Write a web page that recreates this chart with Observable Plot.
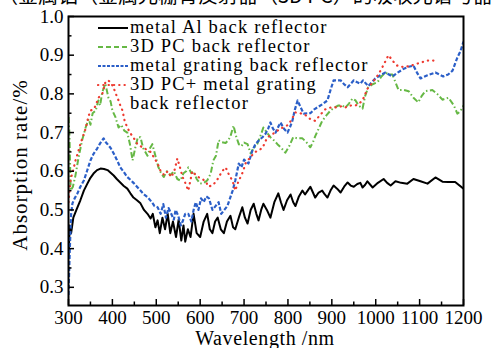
<!DOCTYPE html>
<html><head><meta charset="utf-8">
<script src="https://cdn.jsdelivr.net/npm/d3@7"></script>
<script src="https://cdn.jsdelivr.net/npm/@observablehq/plot@0.6"></script>
<style>
body{margin:0;background:#fff;}
#wrap{position:relative;width:492px;height:348px;font-family:"Liberation Serif",serif;color:#000;}
#wrap > svg{position:absolute;left:0;top:0;}
.ov{position:absolute;white-space:nowrap;}
#topcut{position:absolute;left:0;top:0;width:492px;height:7px;overflow:hidden;}
#topcut span{position:absolute;left:-2px;top:-16px;font-family:"Noto Sans CJK SC",sans-serif;font-size:20px;line-height:22px;white-space:nowrap;}
.leg{position:absolute;left:97px;font-size:18.5px;letter-spacing:1.2px;line-height:18px;height:18px;white-space:nowrap;}
#wrap .leg svg{position:static;vertical-align:middle;}
</style></head>
<body><div id="wrap"></div>
<script>
// ---- data ----
const seriesNames = ["metal Al back reflector","3D PC back reflector","metal grating back reflector","3D PC+ metal grating back reflector"];
const xTicks = [300,400,500,600,700,800,900,1000,1100,1200];
const xMinor = [350,450,550,650,750,850,950,1050,1150];
const yTicks = [0.3,0.4,0.5,0.6,0.7,0.8,0.9,1.0];
const yMinor = [0.35,0.45,0.55,0.65,0.75,0.85,0.95];

const wlAl = [300,303,306,311,318,327,335,343,350,357,365,373,381,389,396,403,410,418,426,434,441,448,456,464,472,480,487,492,498,503,508,514,520,526,532,538,545,551,557,562,566,572,578,585,592,600,608,616,622,628,634,640,647,654,661,669,675,680,688,696,702,708,715,722,728,733,739,744,752,760,769,778,784,790,798,806,812,817,825,833,839,845,851,857,862,870,878,884,890,897,904,912,920,928,936,943,950,958,965,970,976,981,993,1005,1018,1026,1034,1045,1058,1072,1086,1102,1118,1136,1152,1165,1181,1200];
const absAl = [0.38,0.46,0.44,0.48,0.50,0.525,0.55,0.568,0.583,0.594,0.603,0.607,0.606,0.603,0.596,0.589,0.58,0.571,0.562,0.555,0.543,0.532,0.525,0.517,0.50,0.49,0.478,0.49,0.455,0.473,0.44,0.48,0.45,0.49,0.44,0.47,0.43,0.475,0.421,0.46,0.418,0.45,0.43,0.49,0.44,0.43,0.47,0.49,0.45,0.44,0.47,0.48,0.45,0.44,0.47,0.485,0.455,0.45,0.48,0.507,0.48,0.465,0.50,0.516,0.49,0.473,0.50,0.516,0.50,0.48,0.52,0.543,0.52,0.50,0.525,0.54,0.52,0.51,0.535,0.55,0.54,0.55,0.56,0.545,0.532,0.545,0.55,0.54,0.532,0.55,0.563,0.555,0.545,0.56,0.571,0.563,0.56,0.567,0.57,0.558,0.565,0.574,0.558,0.57,0.58,0.57,0.563,0.574,0.57,0.568,0.58,0.574,0.568,0.584,0.573,0.572,0.572,0.555];

const wlPc = [300,302,305,310,316,323,331,339,346,350,355,362,368,372,377,384,391,396,400,407,414,420,427,434,440,446,452,458,464,470,480,486,491,498,505,511,517,524,532,540,548,555,562,568,573,580,585,592,600,608,616,624,630,636,642,650,658,664,669,676,682,688,694,700,708,715,722,730,737,744,752,760,768,776,785,794,803,812,822,833,842,851,857,862,870,878,888,897,906,915,923,931,939,947,954,961,970,976,983,993,1004,1013,1022,1030,1038,1045,1052,1064,1075,1086,1097,1105,1113,1129,1140,1152,1166,1178,1186,1193,1200];
const absPc = [0.74,0.70,0.55,0.56,0.59,0.636,0.68,0.713,0.735,0.72,0.75,0.757,0.783,0.77,0.805,0.826,0.79,0.78,0.757,0.74,0.713,0.72,0.705,0.70,0.67,0.628,0.66,0.688,0.688,0.66,0.64,0.66,0.67,0.64,0.61,0.595,0.585,0.60,0.59,0.60,0.58,0.576,0.595,0.60,0.61,0.595,0.60,0.58,0.568,0.57,0.576,0.594,0.628,0.64,0.68,0.675,0.673,0.68,0.69,0.718,0.69,0.67,0.665,0.674,0.67,0.646,0.66,0.67,0.69,0.713,0.70,0.688,0.68,0.67,0.66,0.648,0.665,0.688,0.685,0.685,0.675,0.662,0.675,0.69,0.71,0.73,0.745,0.757,0.765,0.77,0.77,0.765,0.775,0.788,0.783,0.77,0.762,0.795,0.817,0.825,0.83,0.845,0.855,0.85,0.85,0.83,0.81,0.81,0.807,0.79,0.778,0.795,0.807,0.81,0.80,0.785,0.79,0.77,0.749,0.755,0.77];

const wlGr = [300,303,306,309,314,320,327,335,342,350,357,365,372,380,385,389,396,403,410,418,426,434,441,448,456,464,472,480,490,496,503,510,516,522,528,534,540,544,550,556,560,566,573,580,585,590,596,602,608,614,620,628,635,642,648,655,662,668,674,680,688,694,700,705,710,719,726,734,742,749,755,760,766,772,778,783,791,799,805,810,816,822,829,836,844,851,860,867,878,890,897,904,912,920,928,936,943,950,958,965,971,983,991,999,1010,1022,1030,1038,1050,1064,1075,1086,1094,1102,1118,1136,1145,1154,1165,1175,1186,1193,1200];
const absGr = [0.28,0.40,0.49,0.517,0.53,0.542,0.56,0.576,0.60,0.628,0.645,0.658,0.672,0.685,0.675,0.67,0.66,0.646,0.63,0.61,0.598,0.585,0.578,0.57,0.56,0.55,0.54,0.533,0.52,0.51,0.507,0.49,0.515,0.48,0.505,0.49,0.475,0.50,0.485,0.46,0.47,0.49,0.49,0.47,0.50,0.52,0.50,0.53,0.52,0.535,0.53,0.50,0.51,0.52,0.49,0.50,0.51,0.53,0.55,0.576,0.62,0.61,0.63,0.625,0.62,0.654,0.67,0.68,0.688,0.697,0.71,0.726,0.71,0.70,0.715,0.726,0.71,0.70,0.715,0.73,0.76,0.783,0.765,0.749,0.75,0.75,0.76,0.765,0.773,0.783,0.81,0.835,0.835,0.835,0.825,0.817,0.826,0.835,0.83,0.826,0.835,0.82,0.83,0.84,0.848,0.855,0.85,0.845,0.855,0.865,0.87,0.873,0.855,0.84,0.848,0.855,0.85,0.845,0.85,0.86,0.894,0.91,0.935];

const wlCm = [300,305,310,316,322,327,333,339,345,350,357,362,368,377,384,390,396,403,408,414,418,423,428,434,440,446,452,457,464,471,480,487,495,503,510,518,526,534,541,548,554,560,566,573,582,590,596,604,612,619,630,640,650,658,666,674,680,686,692,698,703,709,715,720,726,734,742,753,765,776,788,801,809,817,828,840,851,862,873,885,898,913,922,931,943,954,962,970,981,993,1006,1018,1029,1039,1049,1058,1068,1078,1086,1100,1118,1127,1136];
const absCm = [0.52,0.58,0.60,0.628,0.65,0.67,0.69,0.71,0.74,0.757,0.76,0.77,0.79,0.80,0.83,0.835,0.83,0.815,0.80,0.783,0.77,0.757,0.73,0.713,0.70,0.69,0.68,0.67,0.665,0.66,0.655,0.65,0.635,0.62,0.60,0.59,0.60,0.585,0.60,0.633,0.61,0.585,0.57,0.55,0.60,0.59,0.585,0.58,0.575,0.56,0.565,0.58,0.60,0.61,0.59,0.575,0.55,0.57,0.585,0.60,0.62,0.63,0.634,0.645,0.65,0.655,0.66,0.688,0.696,0.705,0.713,0.72,0.735,0.752,0.75,0.745,0.735,0.73,0.745,0.76,0.765,0.765,0.768,0.765,0.77,0.77,0.775,0.783,0.813,0.83,0.85,0.875,0.90,0.885,0.873,0.87,0.87,0.872,0.875,0.88,0.886,0.886,0.886];

// ---- styles ----
const styles = [
  {color:"#000000", dash:null, width:2, cap:"butt"},
  {color:"#66b845", dash:"6,2.5,1.5,2.5", width:2, cap:"butt"},
  {color:"#2b5fc8", dash:"4,2", width:2.2, cap:"butt"},
  {color:"#ee3a30", dash:"0.3,5", width:2.2, cap:"round"}
];
const sets = [[wlAl,absAl],[wlPc,absPc],[wlGr,absGr],[wlCm,absCm]];
const rows = sets.map(([w,a],i)=>w.map((x,j)=>({wl:x, v:a[j], s:seriesNames[i]})));

const font = "Liberation Serif, serif";
const marks = [];
rows.forEach((r,i)=>{
  marks.push(Plot.line(r,{x:"wl",y:"v",stroke:styles[i].color,strokeWidth:styles[i].width,
    strokeDasharray:styles[i].dash, strokeLinecap:styles[i].cap, strokeLinejoin:"round", clip:true}));
});
marks.push(Plot.frame({stroke:"#000",strokeWidth:2}));
marks.push(Plot.axisX({ticks:xTicks,tickSize:0,tickPadding:5,tickFormat:d=>String(d),fontSize:19,label:null}));
marks.push(Plot.axisX({ticks:xTicks,tickSize:-6,text:null,strokeWidth:1.5,label:null}));
marks.push(Plot.axisX({ticks:xMinor,tickSize:-3.5,text:null,strokeWidth:1.5,label:null}));
marks.push(Plot.axisY({ticks:yTicks,tickSize:0,tickPadding:5,tickFormat:d=>d.toFixed(1),fontSize:19,label:null}));
marks.push(Plot.axisY({ticks:yTicks,tickSize:-6,text:null,strokeWidth:1.5,label:null}));
marks.push(Plot.axisY({ticks:yMinor,tickSize:-3.5,text:null,strokeWidth:1.5,label:null}));

const chart = Plot.plot({
  width:492, height:348,
  marginLeft:68, marginRight:29, marginTop:16, marginBottom:43,
  style:{fontFamily:font, color:"#000", background:"transparent"},
  x:{domain:[300,1200]},
  y:{domain:[0.253,1.0]},
  marks
});
const wrap = document.getElementById("wrap");
wrap.appendChild(chart);

// cropped title line at the very top
const tc = document.createElement("div"); tc.id="topcut";
tc.innerHTML = "<span>（金属铝（金属光栅背反射器（3D PC）的吸收光谱与器件</span>";
wrap.appendChild(tc);

// axis titles
const xl = document.createElement("div"); xl.className="ov";
xl.style.cssText = "left:265px;top:338px;font-size:20px;line-height:17px;letter-spacing:0.6px;transform:translate(-50%,-50%);";
xl.textContent = "Wavelength /nm";
wrap.appendChild(xl);
const yl = document.createElement("div"); yl.className="ov";
yl.style.cssText = "left:20px;top:165px;font-size:21px;letter-spacing:1px;transform:translate(-50%,-50%) rotate(-90deg);";
yl.textContent = "Absorption rate/%";
wrap.appendChild(yl);

// legend
const legRows = [
  {i:0, text:"metal Al back reflector", top:16},
  {i:1, text:"3D PC back reflector", top:35},
  {i:2, text:"metal grating back reflector", top:54},
  {i:3, text:"3D PC+ metal grating", top:73},
  {i:-1, text:"back reflector", top:92}
];
legRows.forEach(r=>{
  const d = document.createElement("div"); d.className="leg"; d.style.top = r.top+"px";
  let sample = "";
  if (r.i>=0){
    const st = styles[r.i];
    sample = `<svg width="32" height="18"><line x1="1" x2="31" y1="10" y2="10" stroke="${st.color}" stroke-width="${st.width}" ${st.dash?`stroke-dasharray="${r.i===1?'5,3':(r.i===2?'3,1.5':st.dash)}"`:""} stroke-linecap="${st.cap}"/></svg>`;
  } else sample = `<svg width="32" height="18"></svg>`;
  d.innerHTML = sample + `<span style="vertical-align:middle;margin-left:1px">${r.text}</span>`;
  wrap.appendChild(d);
});
</script>
</body></html>
